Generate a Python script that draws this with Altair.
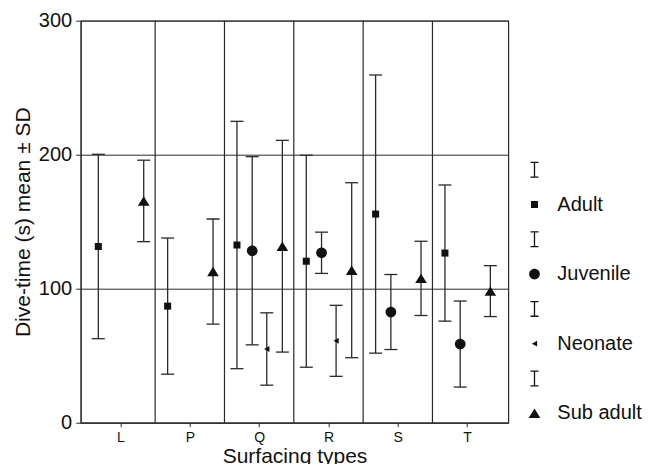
import altair as alt
import pandas as pd
import json

categories = ["L", "P", "Q", "R", "S", "T"]
age_groups = ["Adult", "Juvenile", "Neonate", "Sub adult"]

surfacing = ["L", "L", "P", "P", "Q", "Q", "Q", "Q", "R", "R", "R", "R",
             "S", "S", "S", "T", "T", "T"]
age_class = ["Adult", "Sub adult", "Adult", "Sub adult",
             "Adult", "Juvenile", "Neonate", "Sub adult",
             "Adult", "Juvenile", "Neonate", "Sub adult",
             "Adult", "Juvenile", "Sub adult",
             "Adult", "Juvenile", "Sub adult"]
mean_dive = [131.5, 165.5, 87.0, 112.8, 132.6, 128.3, 55.0, 131.7,
             120.5, 126.8, 61.1, 113.8, 155.7, 82.6, 107.7, 126.6, 58.7, 98.2]
sd_dive = [68.8, 30.4, 50.8, 39.2, 92.3, 70.2, 27.0, 79.0,
           79.1, 15.4, 26.5, 65.3, 103.8, 28.0, 27.7, 50.8, 32.1, 19.0]
y_ticks = [0, 100, 200, 300]

FONT = "Liberation Sans"
INK = "#111111"
LINE = "#2a2a2a"

# dodge within each surfacing type (style, not data)
dodge = {"Adult": -0.32, "Juvenile": -0.10, "Neonate": 0.11, "Sub adult": 0.335}

df = pd.DataFrame({"cat": surfacing, "group": age_class,
                   "mean": mean_dive, "sd": sd_dive})
df["idx"] = df["cat"].map(lambda c: categories.index(c) + 1)
df["xpos"] = df["idx"] + df["group"].map(dodge)
df["lo"] = df["mean"] - df["sd"]
df["hi"] = df["mean"] + df["sd"]

seps = pd.DataFrame({"sep": [i + 0.5 for i in range(1, len(categories))]})

xscale = alt.Scale(domain=[0.426, 6.594], nice=False, zero=False)
yscale = alt.Scale(domain=[0, 300], nice=False, zero=False)

label_expr = json.dumps(categories) + "[datum.value - 1]"

x_axis = alt.Axis(values=list(range(1, len(categories) + 1)), labelExpr=label_expr,
                  grid=False, tickSize=4, tickColor=LINE, domainColor=LINE,
                  labelFontSize=14, labelPadding=4, labelColor=INK,
                  title="Surfacing types", titleFontSize=21, titlePadding=1,
                  titleFontWeight="normal", titleColor=INK)
y_axis = alt.Axis(values=y_ticks, grid=True, gridColor=LINE, gridWidth=1,
                  tickSize=5, tickColor=LINE, domainColor=LINE,
                  labelFontSize=20, labelPadding=4, labelColor=INK,
                  title="Dive-time (s) mean \u00b1 SD", titleFontSize=21,
                  titlePadding=5, titleFontWeight="normal", titleColor=INK)

base = alt.Chart(df)

separators = alt.Chart(seps).mark_rule(color=LINE, strokeWidth=1.2).encode(
    x=alt.X("sep:Q", scale=xscale, axis=x_axis)
)

bars = base.mark_rule(color=LINE, strokeWidth=1.3).encode(
    x=alt.X("xpos:Q", scale=xscale, axis=x_axis),
    y=alt.Y("lo:Q", scale=yscale, axis=y_axis),
    y2="hi:Q",
)

caps = base.transform_fold(["lo", "hi"], as_=["end", "val"]).mark_tick(
    orient="horizontal", size=13, thickness=1.3, color=LINE, opacity=1
).encode(
    x=alt.X("xpos:Q", scale=xscale, axis=x_axis),
    y=alt.Y("val:Q", scale=yscale, axis=y_axis),
)

# marker glyphs as unit-box paths (drawn at symbol size 256 -> 8 px per unit)
I_PATH = ("M-0.5,-1H0.5V-0.84H0.08V0.84H0.5V1H-0.5V0.84H-0.08"
          "V-0.84H-0.5Z")
marker_shape = {
    "Adult": "M-0.44,-0.44H0.44V0.44H-0.44Z",
    "Juvenile": "M-0.67,0A0.67,0.67 0 1,0 0.67,0A0.67,0.67 0 1,0 -0.67,0Z",
    "Neonate": "M-0.33,0L0.33,-0.36L0.33,0.36Z",
    "Sub adult": "M0,-0.59L0.73,0.59L-0.73,0.59Z",
}
legend_domain = []
shape_range = []
for k, g in enumerate(age_groups):
    legend_domain += ["e%d" % k, g]
    shape_range += [I_PATH, marker_shape[g]]

legend = alt.Legend(
    title=None, orient="none", legendX=443.8, legendY=139.0, padding=0,
    rowPadding=13.8, labelOffset=12.8, labelFontSize=20, labelFont=FONT,
    labelColor=INK, labelExpr="length(datum.label) < 3 ? '' : datum.label",
    symbolSize=256, symbolFillColor=INK, symbolOpacity=1,
)

points = base.mark_point(filled=True, color=INK, opacity=1, size=256).encode(
    x=alt.X("xpos:Q", scale=xscale, axis=x_axis),
    y=alt.Y("mean:Q", scale=yscale, axis=y_axis),
    shape=alt.Shape("group:N", scale=alt.Scale(domain=legend_domain, range=shape_range),
                    legend=legend),
)

chart = alt.layer(separators, bars, caps, points).properties(
    width=427.6, height=402,
    padding={"left": 80.7, "top": 20.7, "right": 139.7, "bottom": 41.3},
    autosize=alt.AutoSizeParams(type="none"),
    background="white",
).configure_view(stroke=LINE, strokeWidth=1.2).configure_axis(
    labelFont=FONT, titleFont=FONT
)

chart.save("out.html", embed_options={"renderer": "svg", "actions": False})
